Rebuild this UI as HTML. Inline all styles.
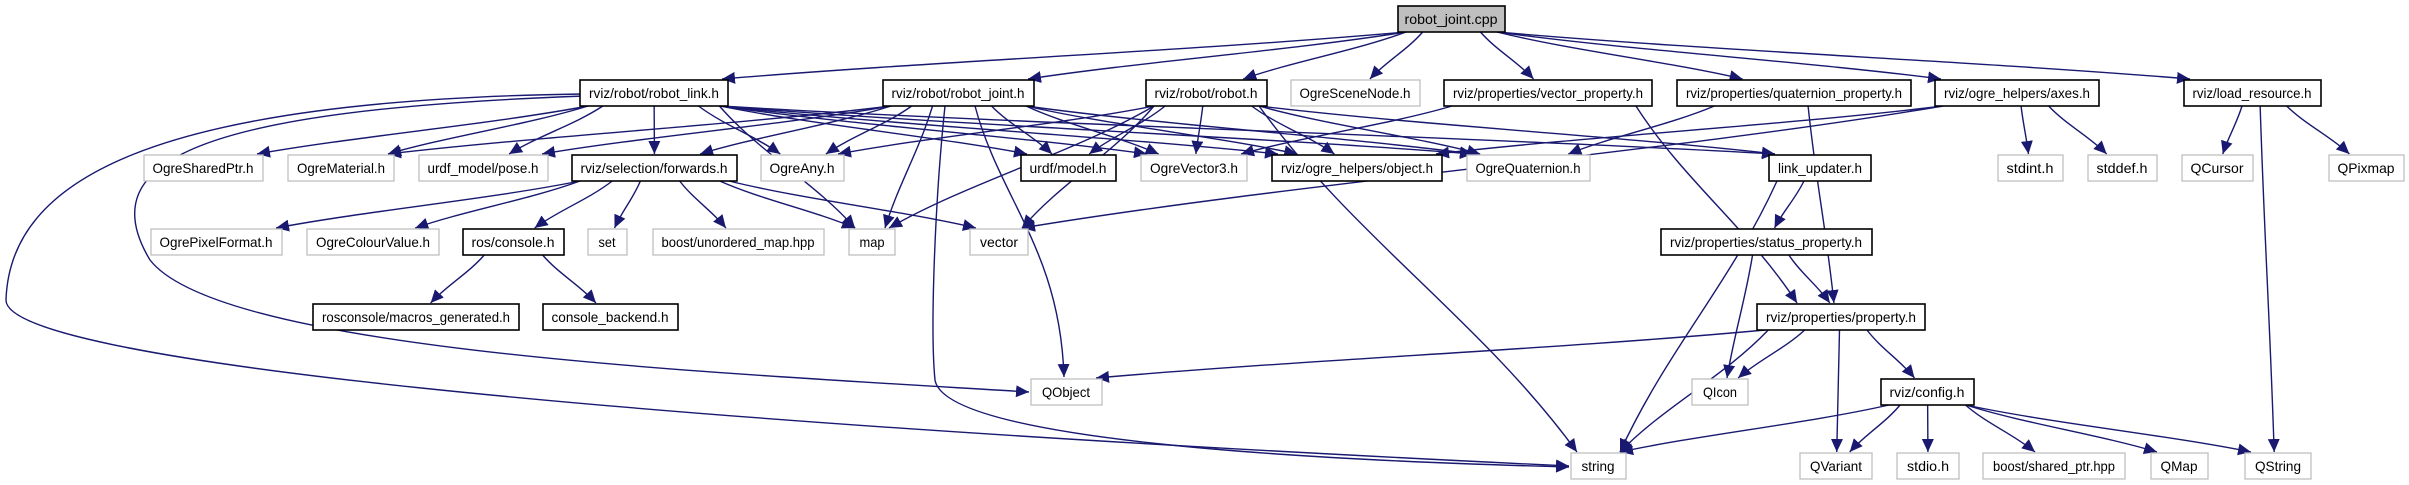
<!DOCTYPE html>
<html><head><meta charset="utf-8"><style>
html,body{margin:0;padding:0;background:#fff;}
svg{display:block;}
text{font-family:"Liberation Sans",sans-serif;font-size:14px;fill:#000;}
</style></head><body>
<svg id="g" width="2409" height="485" viewBox="0 0 2409 485" xmlns="http://www.w3.org/2000/svg">
<defs><marker id="ar" markerUnits="userSpaceOnUse" markerWidth="14" markerHeight="12" refX="13" refY="6" orient="auto"><path d="M0,0 L13,6 L0,12 Z" fill="#191970"/></marker></defs>
<g id="edges" fill="none" stroke="#191970" stroke-width="1.4"></g>
<g id="nodes"></g>
</svg>
<script>
var N={
cpp:[1398,1505,0,'robot_joint.cpp','c'],
link:[580,728,1,'rviz/robot/robot_link.h','b'],
joint:[883,1034,1,'rviz/robot/robot_joint.h','b'],
robot:[1146,1267,1,'rviz/robot/robot.h','b'],
scene:[1291,1420,1,'OgreSceneNode.h','g'],
vprop:[1444,1652,1,'rviz/properties/vector_property.h','b'],
qprop:[1677,1911,1,'rviz/properties/quaternion_property.h','b'],
axes:[1935,2099,1,'rviz/ogre_helpers/axes.h','b'],
load:[2184,2321,1,'rviz/load_resource.h','b'],
shared:[144,263,2,'OgreSharedPtr.h','g'],
mat:[288,394,2,'OgreMaterial.h','g'],
pose:[419,548,2,'urdf_model/pose.h','g'],
fwd:[572,737,2,'rviz/selection/forwards.h','b'],
any:[761,844,2,'OgreAny.h','g'],
model:[1021,1116,2,'urdf/model.h','b'],
vec3:[1141,1247,2,'OgreVector3.h','g'],
obj:[1272,1442,2,'rviz/ogre_helpers/object.h','b'],
quat:[1467,1590,2,'OgreQuaternion.h','g'],
lupd:[1769,1871,2,'link_updater.h','b'],
stdint:[1998,2063,2,'stdint.h','g'],
stddef:[2088,2157,2,'stddef.h','g'],
qcur:[2182,2253,2,'QCursor','g'],
qpix:[2329,2404,2,'QPixmap','g'],
pix:[151,282,3,'OgrePixelFormat.h','g'],
col:[307,439,3,'OgreColourValue.h','g'],
cons:[463,564,3,'ros/console.h','b'],
set:[588,627,3,'set','g'],
umap:[653,824,3,'boost/unordered_map.hpp','g'],
map:[849,895,3,'map','g'],
vector:[970,1028,3,'vector','g'],
status:[1661,1872,3,'rviz/properties/status_property.h','b'],
macros:[313,519,4,'rosconsole/macros_generated.h','b'],
backend:[543,678,4,'console_backend.h','b'],
prop:[1757,1925,4,'rviz/properties/property.h','b'],
qobj:[1031,1102,5,'QObject','g'],
qicon:[1692,1748,5,'QIcon','g'],
config:[1881,1974,5,'rviz/config.h','b'],
string:[1571,1626,6,'string','g'],
qvar:[1800,1872,6,'QVariant','g'],
stdio:[1897,1959,6,'stdio.h','g'],
sptr:[1983,2125,6,'boost/shared_ptr.hpp','g'],
qmap:[2151,2208,6,'QMap','g'],
qstr:[2245,2311,6,'QString','g']
};
var TOP=[6,80,155,229,304,379,453],H=26;
var E=[
['cpp','link'],['cpp','joint'],['cpp','robot'],['cpp','scene'],['cpp','vprop'],['cpp','qprop'],['cpp','axes'],['cpp','load'],
['link','shared'],['link','mat'],['link','pose'],['link','fwd'],['link','any'],['link','model'],['link','vec3'],['link','obj'],['link','quat'],['link','lupd'],['link','map'],
['joint','mat'],['joint','pose'],['joint','fwd'],['joint','any'],['joint','model'],['joint','vec3'],['joint','obj'],['joint','quat'],['joint','map'],
['robot','any'],['robot','model'],['robot','vec3'],['robot','obj'],['robot','quat'],['robot','lupd'],['robot','map'],['robot','vector'],['robot','string'],
['vprop','vec3'],['vprop','prop'],['qprop','quat'],['qprop','prop'],
['axes','obj'],['axes','vector'],['axes','stdint'],['axes','stddef'],
['load','qcur'],['load','qpix'],['load','qstr'],
['fwd','pix'],['fwd','col'],['fwd','cons'],['fwd','set'],['fwd','umap'],['fwd','map'],['fwd','vector'],
['cons','macros'],['cons','backend'],
['lupd','status'],['lupd','string'],
['status','prop'],['status','qicon'],
['prop','qobj'],['prop','qicon'],['prop','string'],['prop','qvar'],['prop','config'],
['config','string'],['config','qvar'],['config','stdio'],['config','sptr'],['config','qmap'],['config','qstr']
];
var SP=[
'M584,96 C200,110 90,160 150,260 C220,350 700,372 1029,392',
'M582,94 C150,100 10,180 6,300 C5,360 600,420 1569,466',
'M945,106 C935,200 930,330 935,380 C945,440 1300,460 1569,467',
'M975,106 C1000,200 1060,250 1064,377'
];
var ns='http://www.w3.org/2000/svg';
var eg=document.getElementById('edges'),ng=document.getElementById('nodes');
function cl(v,a,b){return Math.max(a,Math.min(b,v));}
function P(d){var p=document.createElementNS(ns,'path');p.setAttribute('d',d);p.setAttribute('marker-end','url(#ar)');eg.appendChild(p);}
E.forEach(function(e){var s=N[e[0]],t=N[e[1]];
var scx=(s[0]+s[1])/2,tcx=(t[0]+t[1])/2;
var sx=cl(scx+(tcx-scx)*0.3,s[0]+8,s[1]-8),sy=TOP[s[2]]+H;
var tx=cl(tcx+(scx-tcx)*0.15,t[0]+6,t[1]-6),ty=TOP[t[2]];
var dy=ty-sy,dx=tx-sx;
P('M'+sx+','+sy+' C'+(sx+dx*0.3)+','+(sy+dy*0.38)+' '+(tx-dx*0.3)+','+(ty-dy*0.38)+' '+tx+','+(ty-1));});
SP.forEach(P);
for(var k in N){var n=N[k],y=TOP[n[2]],w=n[1]-n[0];
var r=document.createElementNS(ns,'rect');r.setAttribute('x',n[0]);r.setAttribute('y',y);r.setAttribute('width',w);r.setAttribute('height',H);
r.setAttribute('fill',n[4]=='c'?'#bfbfbf':'#fff');r.setAttribute('stroke',n[4]=='g'?'#bfbfbf':'#000');r.setAttribute('stroke-width',n[4]=='g'?1.3:1.6);ng.appendChild(r);}
</script>
<div style="position:absolute;left:0;top:0;width:2409px;height:485px;pointer-events:none">
<svg width="2409" height="485" xmlns="http://www.w3.org/2000/svg" style="position:absolute;left:0;top:0">
<g font-family="Liberation Sans, sans-serif" font-size="14" text-anchor="middle">
<text x="1451" y="24" textLength="93" lengthAdjust="spacingAndGlyphs">robot_joint.cpp</text>
<text x="654" y="98" textLength="130" lengthAdjust="spacingAndGlyphs">rviz/robot/robot_link.h</text>
<text x="958" y="98" textLength="133" lengthAdjust="spacingAndGlyphs">rviz/robot/robot_joint.h</text>
<text x="1206" y="98" textLength="103" lengthAdjust="spacingAndGlyphs">rviz/robot/robot.h</text>
<text x="1355" y="98" textLength="111" lengthAdjust="spacingAndGlyphs">OgreSceneNode.h</text>
<text x="1548" y="98" textLength="190" lengthAdjust="spacingAndGlyphs">rviz/properties/vector_property.h</text>
<text x="1794" y="98" textLength="216" lengthAdjust="spacingAndGlyphs">rviz/properties/quaternion_property.h</text>
<text x="2017" y="98" textLength="146" lengthAdjust="spacingAndGlyphs">rviz/ogre_helpers/axes.h</text>
<text x="2252" y="98" textLength="119" lengthAdjust="spacingAndGlyphs">rviz/load_resource.h</text>
<text x="203" y="173" textLength="101" lengthAdjust="spacingAndGlyphs">OgreSharedPtr.h</text>
<text x="341" y="173" textLength="88" lengthAdjust="spacingAndGlyphs">OgreMaterial.h</text>
<text x="483" y="173" textLength="111" lengthAdjust="spacingAndGlyphs">urdf_model/pose.h</text>
<text x="654" y="173" textLength="147" lengthAdjust="spacingAndGlyphs">rviz/selection/forwards.h</text>
<text x="802" y="173" textLength="65" lengthAdjust="spacingAndGlyphs">OgreAny.h</text>
<text x="1068" y="173" textLength="77" lengthAdjust="spacingAndGlyphs">urdf/model.h</text>
<text x="1194" y="173" textLength="88" lengthAdjust="spacingAndGlyphs">OgreVector3.h</text>
<text x="1357" y="173" textLength="152" lengthAdjust="spacingAndGlyphs">rviz/ogre_helpers/object.h</text>
<text x="1528" y="173" textLength="105" lengthAdjust="spacingAndGlyphs">OgreQuaternion.h</text>
<text x="1820" y="173" textLength="84" lengthAdjust="spacingAndGlyphs">link_updater.h</text>
<text x="2030" y="173" textLength="47" lengthAdjust="spacingAndGlyphs">stdint.h</text>
<text x="2122" y="173" textLength="51" lengthAdjust="spacingAndGlyphs">stddef.h</text>
<text x="2217" y="173" textLength="53" lengthAdjust="spacingAndGlyphs">QCursor</text>
<text x="2366" y="173" textLength="57" lengthAdjust="spacingAndGlyphs">QPixmap</text>
<text x="216" y="247" textLength="113" lengthAdjust="spacingAndGlyphs">OgrePixelFormat.h</text>
<text x="373" y="247" textLength="114" lengthAdjust="spacingAndGlyphs">OgreColourValue.h</text>
<text x="513" y="247" textLength="83" lengthAdjust="spacingAndGlyphs">ros/console.h</text>
<text x="607" y="247" textLength="17" lengthAdjust="spacingAndGlyphs">set</text>
<text x="738" y="247" textLength="153" lengthAdjust="spacingAndGlyphs">boost/unordered_map.hpp</text>
<text x="872" y="247" textLength="25" lengthAdjust="spacingAndGlyphs">map</text>
<text x="999" y="247" textLength="38" lengthAdjust="spacingAndGlyphs">vector</text>
<text x="1766" y="247" textLength="192" lengthAdjust="spacingAndGlyphs">rviz/properties/status_property.h</text>
<text x="416" y="322" textLength="188" lengthAdjust="spacingAndGlyphs">rosconsole/macros_generated.h</text>
<text x="610" y="322" textLength="117" lengthAdjust="spacingAndGlyphs">console_backend.h</text>
<text x="1841" y="322" textLength="150" lengthAdjust="spacingAndGlyphs">rviz/properties/property.h</text>
<text x="1066" y="397" textLength="48" lengthAdjust="spacingAndGlyphs">QObject</text>
<text x="1720" y="397" textLength="34" lengthAdjust="spacingAndGlyphs">QIcon</text>
<text x="1927" y="397" textLength="75" lengthAdjust="spacingAndGlyphs">rviz/config.h</text>
<text x="1598" y="471" textLength="33" lengthAdjust="spacingAndGlyphs">string</text>
<text x="1836" y="471" textLength="52" lengthAdjust="spacingAndGlyphs">QVariant</text>
<text x="1928" y="471" textLength="42" lengthAdjust="spacingAndGlyphs">stdio.h</text>
<text x="2054" y="471" textLength="122" lengthAdjust="spacingAndGlyphs">boost/shared_ptr.hpp</text>
<text x="2179" y="471" textLength="37" lengthAdjust="spacingAndGlyphs">QMap</text>
<text x="2278" y="471" textLength="46" lengthAdjust="spacingAndGlyphs">QString</text>
</g></svg></div>
</body></html>
